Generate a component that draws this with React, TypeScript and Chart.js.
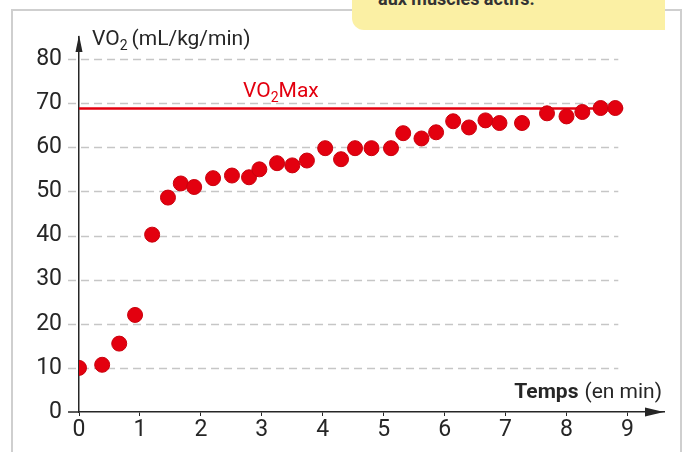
import React, { useEffect, useRef } from 'react';
import { Chart, registerables } from 'chart.js';

Chart.register(...registerables);

// ---- data ----
const TIME_MIN = [0, 0.38, 0.66, 0.92, 1.2, 1.46, 1.67, 1.89, 2.2, 2.51, 2.79, 2.96, 3.25, 3.5, 3.74, 4.04, 4.3, 4.53, 4.8, 5.12, 5.32, 5.62, 5.86, 6.14, 6.4, 6.67, 6.9, 7.27, 7.68, 8.0, 8.26, 8.56, 8.8];
const VO2 = [10, 10.7, 15.5, 22, 40.2, 48.6, 51.8, 51, 53, 53.6, 53.2, 55, 56.4, 55.9, 57, 59.8, 57.3, 59.8, 59.8, 59.8, 63.2, 62, 63.4, 65.9, 64.5, 66.1, 65.5, 65.5, 67.7, 67, 68, 68.9, 68.9];
const VO2_MAX = 68.8;
const VO2_MAX_SPAN = [0, 8.93];
const X_TICKS = [0, 1, 2, 3, 4, 5, 6, 7, 8, 9];
const Y_TICKS = [0, 10, 20, 30, 40, 50, 60, 70, 80];
const GRID_SPAN = [-0.18, 8.85];

const FONT = 'Roboto, "Liberation Sans", sans-serif';
const INK = '#262626';
const RED = '#e3000f';

const overlay = {
  id: 'overlay',
  beforeDatasetsDraw(chart: any) {
    const { ctx, scales } = chart;
    const x = scales.x, y = scales.y;
    ctx.save();
    ctx.strokeStyle = '#c6c6c6';
    ctx.lineWidth = 1.5;
    ctx.setLineDash([8, 5]);
    const x0 = x.getPixelForValue(GRID_SPAN[0]);
    const x1 = x.getPixelForValue(GRID_SPAN[1]);
    Y_TICKS.forEach((v) => {
      if (v === 0) return;
      const py = Math.round(y.getPixelForValue(v)) + 0.5;
      ctx.beginPath();
      ctx.moveTo(x0, py);
      ctx.lineTo(x1, py);
      ctx.stroke();
    });
    ctx.setLineDash([]);
    ctx.strokeStyle = INK;
    ctx.beginPath();
    const p0 = y.getPixelForValue(0);
    ctx.moveTo(x0, p0);
    ctx.lineTo(x.getPixelForValue(0), p0);
    ctx.stroke();
    ctx.restore();
  },
  afterDraw(chart: any) {
    const { ctx, scales } = chart;
    const x = scales.x, y = scales.y;
    const ax = x.getPixelForValue(0);
    const ay = y.getPixelForValue(0);
    const top = chart.chartArea.top;
    const right = chart.chartArea.right;
    ctx.save();
    ctx.fillStyle = INK;
    // y arrow
    ctx.beginPath();
    ctx.moveTo(ax, top - 2);
    ctx.lineTo(ax - 3.5, top + 15);
    ctx.lineTo(ax + 3.5, top + 15);
    ctx.closePath();
    ctx.fill();
    // x arrow
    ctx.beginPath();
    ctx.moveTo(right, ay);
    ctx.lineTo(right - 19, ay - 4.5);
    ctx.lineTo(right - 19, ay + 4.5);
    ctx.closePath();
    ctx.fill();

    // y title
    ctx.textBaseline = 'alphabetic';
    ctx.textAlign = 'left';
    ctx.font = `21px ${FONT}`;
    let tx = 92;
    ctx.fillText('VO', tx, 45);
    tx += ctx.measureText('VO').width;
    ctx.font = `14px ${FONT}`;
    ctx.fillText('2', tx, 50);
    tx += ctx.measureText('2').width + 4;
    ctx.font = `21px ${FONT}`;
    ctx.fillText('(mL/kg/min)', tx, 45);

    // x title
    ctx.textAlign = 'right';
    ctx.font = `21px ${FONT}`;
    const endX = 662;
    ctx.fillText('(en min)', endX, 398);
    const w = ctx.measureText('(en min)').width;
    ctx.font = `bold 21px ${FONT}`;
    ctx.fillText('Temps', endX - w - 6, 398);

    // VO2Max label
    ctx.fillStyle = RED;
    ctx.textAlign = 'left';
    ctx.font = `21px ${FONT}`;
    let lx = 243;
    ctx.fillText('VO', lx, 97);
    lx += ctx.measureText('VO').width;
    ctx.font = `14px ${FONT}`;
    ctx.fillText('2', lx, 102);
    lx += ctx.measureText('2').width;
    ctx.font = `21px ${FONT}`;
    ctx.fillText('Max', lx, 97);
    ctx.restore();
  },
};

export default function App() {
  const ref = useRef<HTMLCanvasElement | null>(null);

  useEffect(() => {
    if (!ref.current) return;
    const chart = new Chart(ref.current, {
      type: 'scatter',
      data: {
        datasets: [
          {
            type: 'line',
            data: VO2_MAX_SPAN.map((t) => ({ x: t, y: VO2_MAX })),
            borderColor: RED,
            borderWidth: 2.5,
            pointRadius: 0,
            order: 2,
          } as any,
          {
            data: TIME_MIN.map((t, i) => ({ x: t, y: VO2[i] })),
            backgroundColor: RED,
            borderColor: '#c9000d',
            borderWidth: 1,
            pointRadius: 7.5,
            order: 1,
          },
        ],
      },
      options: {
        responsive: false,
        animation: false,
        layout: { padding: { left: 0, top: 37, right: 19, bottom: 0 } },
        plugins: { legend: { display: false }, tooltip: { enabled: false } },
        scales: {
          x: {
            type: 'linear',
            min: 0,
            max: 9.6,
            afterBuildTicks: (s: any) => { s.ticks = X_TICKS.map((v) => ({ value: v })); },
            afterFit: (s: any) => { s.height = 40; },
            grid: { drawOnChartArea: false, drawTicks: true, tickLength: 4, color: INK, lineWidth: 1 },
            border: { color: INK, width: 1.5 },
            ticks: { font: { family: FONT, size: 23 }, color: INK, padding: 0, maxRotation: 0, autoSkip: false },
          },
          y: {
            type: 'linear',
            min: 0,
            max: 85,
            afterBuildTicks: (s: any) => { s.ticks = Y_TICKS.map((v) => ({ value: v })); },
            afterFit: (s: any) => { s.width = 79; },
            grid: { display: false },
            border: { color: INK, width: 1.5 },
            ticks: { font: { family: FONT, size: 23 }, color: INK, padding: 9, autoSkip: false },
          },
        },
      },
      plugins: [overlay],
    });
    return () => chart.destroy();
  }, []);

  return (
    <div style={{ position: 'fixed', left: 0, top: 0, width: 683, height: 452, background: '#fff', overflow: 'hidden' }}>
      <div style={{ position: 'absolute', left: 11, top: 9, width: 671, height: 470, border: '2px solid #cfcfcf', boxSizing: 'border-box' }} />
      <canvas ref={ref} width={683} height={452} style={{ position: 'absolute', left: 0, top: 0 }} />
      <div style={{ position: 'absolute', left: 352, top: 0, width: 313, height: 30, background: '#fbf0a4', borderBottomLeftRadius: 12, overflow: 'hidden' }}>
        <span style={{ position: 'absolute', left: 26, top: -11, fontFamily: FONT, fontWeight: 'bold', fontSize: 18, lineHeight: '20px', color: '#333', whiteSpace: 'nowrap' }}>aux muscles actifs.</span>
      </div>
    </div>
  );
}
